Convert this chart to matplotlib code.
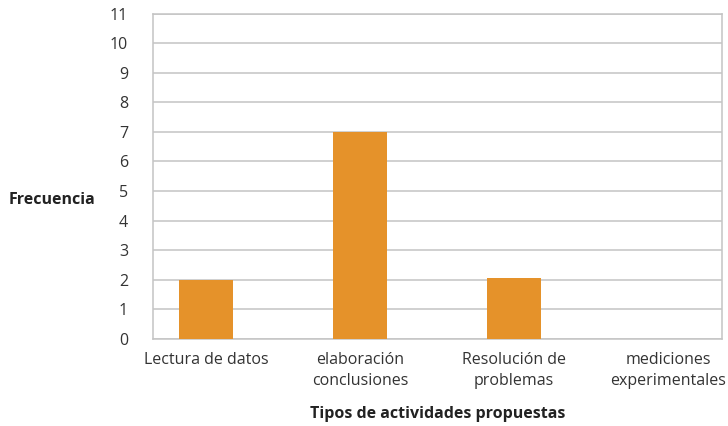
import numpy as np
import matplotlib.pyplot as plt

categorias = ["Lectura de datos", "elaboración\nconclusiones",
              "Resolución de\nproblemas", "mediciones\nexperimentales"]
frecuencia = [2, 7, 2.05, 0]
yticks = list(range(0, 12))

plt.rcParams['font.family'] = ['Open Sans', 'DejaVu Sans']

fig = plt.figure(figsize=(7.28, 4.26), dpi=100)
ax = fig.add_axes([153 / 728, 1 - 339 / 426, (722 - 153) / 728, (339 - 13.5) / 426])

x = np.arange(len(categorias))
ax.bar(x, frecuencia, width=0.346, color="#E5922A", zorder=3)

ax.set_xlim(-0.344, 3.35)
ax.set_ylim(0, 11)
ax.set_yticks(yticks)
ax.yaxis.grid(True, color="#c4c4c4", linewidth=1.1, zorder=0)
for s in ax.spines.values():
    s.set_color("#c4c4c4")
    s.set_linewidth(1.1)
ax.tick_params(axis="y", length=0, pad=18, labelsize=11.5, labelcolor="#333333")
ax.set_xticks(x)
ax.set_xticklabels(categorias, fontsize=11.5, color="#333333", linespacing=1.45)
ax.tick_params(axis="x", length=0, pad=9)

fig.text(52 / 728, 1 - 200 / 426, "Frecuencia", ha="center", va="center",
         fontsize=11.5, fontweight="bold", color="#222222")
fig.text(438 / 728, 1 - 414 / 426, "Tipos de actividades propuestas", ha="center",
         va="center", fontsize=11.5, fontweight="bold", color="#222222")

fig.savefig("out.png", dpi=100)
